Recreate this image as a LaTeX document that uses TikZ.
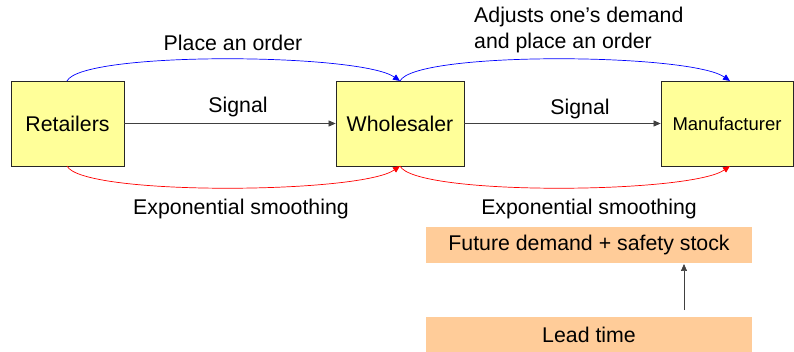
\documentclass[tikz,border=0pt]{standalone}
\usepackage{fontspec}
\setmainfont{Liberation Sans}
\usetikzlibrary{arrows.meta}
\definecolor{boxyellow}{HTML}{FFFF99}
\definecolor{boxorange}{HTML}{FFCC99}
\definecolor{sigcol}{HTML}{404040}
\begin{document}
\begin{tikzpicture}[x=1pt,y=-1pt,
  actor/.style={draw=black!85, fill=boxyellow, line width=0.8pt, minimum height=85pt, inner sep=0pt, font=\fontsize{21.3}{25}\selectfont},
  infobox/.style={fill=boxorange, inner sep=0pt, minimum width=326pt, font=\fontsize{21.3}{25}\selectfont},
  lbl/.style={font=\fontsize{21.3}{25.5}\selectfont, inner sep=0pt},
  tip/.style={-{Triangle[length=7pt,width=6pt]}},
  sigline/.style={tip, draw=sigcol, line width=0.7pt},
  ordline/.style={tip, draw=blue, line width=0.7pt},
  smline/.style={tip, draw=red, line width=0.7pt}]
\useasboundingbox (0,0) rectangle (794,352);
\node[actor, minimum width=113pt] (ret) at (67.5,123.5) {Retailers};
\node[actor, minimum width=128pt] (whl) at (400,123.5) {Wholesaler};
\node[actor, minimum width=132pt, font=\fontsize{18.5}{22}\selectfont] (man) at (727,123.5) {Manufacturer};
\node[infobox, minimum height=36pt] (fut) at (589,245) {Future demand + safety stock};
\node[infobox, minimum height=35pt] (lead) at (589,334.5) {Lead time};
% signals
\draw[sigline] (ret.east) -- (whl.west);
\draw[sigline] (whl.east) -- (man.west);
\node[lbl] (sig1) at (238,107) {Signal};
\node[lbl] (sig2) at (580,109) {Signal};
% orders
\coordinate (whltop) at (400,81);
\coordinate (mantop) at (730,81);
\coordinate (rettop) at (67,81);
\coordinate (whlbot) at (400,166);
\coordinate (manbot) at (730,166);
\coordinate (retbot) at (67,166);
\draw[ordline] (rettop) .. controls +(15,-30) and +(-40,-28) .. (whltop);
\draw[ordline] (whltop) .. controls +(15,-30) and +(-40,-28) .. (mantop);
\draw[smline] (retbot) .. controls +(15,30) and +(-40,28) .. (whlbot);
\draw[smline] (whlbot) .. controls +(15,30) and +(-40,28) .. (manbot);
\node[lbl] (ord1) at (233,43) {Place an order};
\node[lbl, align=left, anchor=west] (ord2) at (474,30) {Adjusts one’s demand\\and place an order};
\node[lbl] (sm1) at (241,209) {Exponential smoothing};
\node[lbl] (sm2) at (589,209) {Exponential smoothing};
% lead time arrow
\coordinate (leadpt) at (684,310);
\coordinate (futpt) at (684,264);
\draw[sigline] (leadpt) -- (futpt);
\end{tikzpicture}
\end{document}
